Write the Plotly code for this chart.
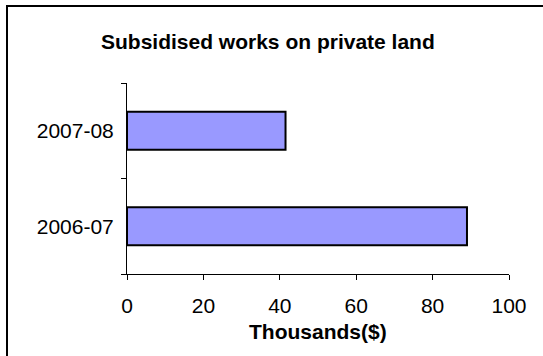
import plotly.graph_objects as go

categories = ["2006-07", "2007-08"]
values = [89, 41.5]
x_ticks = [0, 20, 40, 60, 80, 100]
title_text = "Subsidised works on private land"
x_title = "Thousands($)"

W, H = 543, 356
L, R, T, B = 127, 34, 83, 82
pw, ph = W - L - R, H - T - B

def px(x):
    return (x - L) / pw

def py(y):
    return (H - B - y) / ph

font = "Arial, Liberation Sans, sans-serif"

fig = go.Figure()
fig.add_trace(go.Bar(
    y=categories, x=values, orientation="h", width=0.4,
    marker=dict(color="#9999FF", line=dict(color="black", width=2)),
))

fig.update_layout(
    width=W, height=H,
    margin=dict(l=L, r=R, t=T, b=B),
    paper_bgcolor="white", plot_bgcolor="white",
    showlegend=False,
    font=dict(family=font, color="black"),
    xaxis=dict(range=[0, 100], tickvals=x_ticks, showgrid=False, zeroline=False,
               showline=True, linecolor="black", linewidth=1,
               ticks="outside", ticklen=5, tickcolor="black", ticklabelstandoff=8,
               tickfont=dict(size=21, family=font, color="black"), fixedrange=True),
    yaxis=dict(type="category", categoryorder="array", categoryarray=categories,
               showgrid=False, zeroline=False, showline=True, linecolor="black", linewidth=1,
               ticks="outside", ticklen=5, tickcolor="black", tickson="boundaries",
               ticklabelstandoff=8,
               tickfont=dict(size=21, family=font, color="black"), fixedrange=True),
)

fig.add_annotation(text="<b>" + title_text + "</b>", xref="paper", yref="paper",
                   x=px(268), y=py(41), showarrow=False, xanchor="center", yanchor="middle",
                   font=dict(size=21, family=font, color="black"))
fig.add_annotation(text="<b>" + x_title + "</b>", xref="paper", yref="paper",
                   x=px(318), y=py(331), showarrow=False, xanchor="center", yanchor="middle",
                   font=dict(size=21, family=font, color="black"))

fig.add_shape(type="rect", xref="paper", yref="paper",
              x0=px(7), y0=py(6), x1=px(600), y1=py(420),
              line=dict(color="black", width=2), fillcolor="rgba(0,0,0,0)", layer="below")

fig.write_html("out.html")
